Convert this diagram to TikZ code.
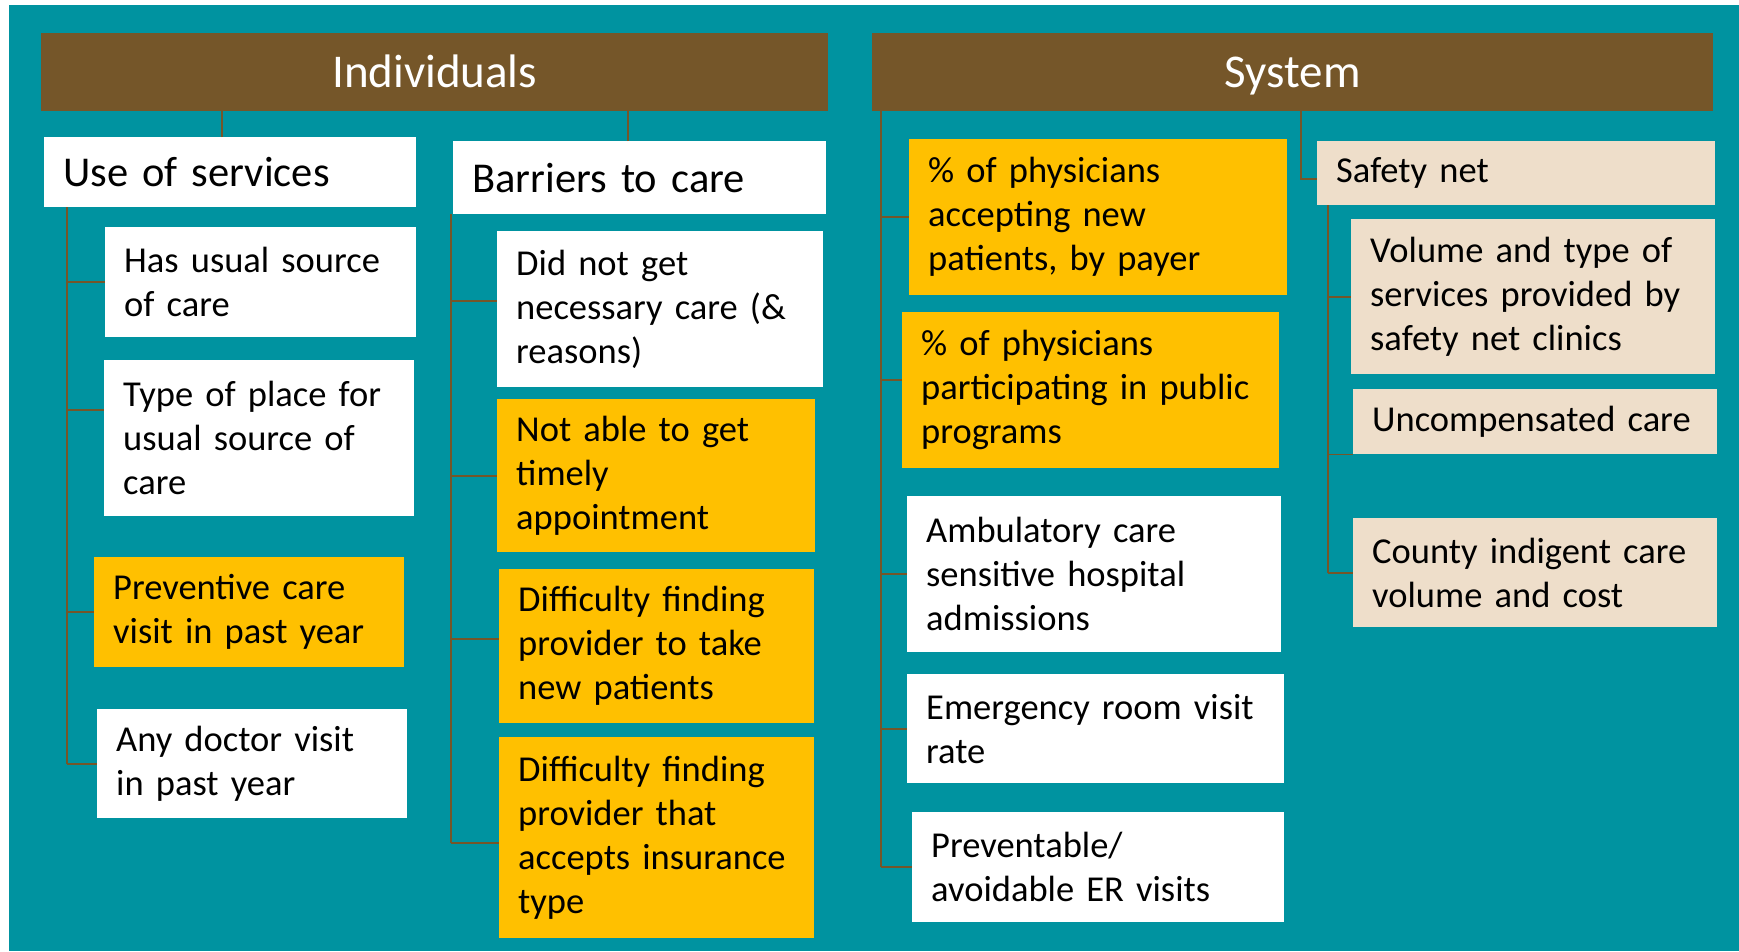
\documentclass[tikz,border=0pt]{standalone}
\usepackage{fontspec}
\setmainfont{Carlito}
\definecolor{bgteal}{RGB}{0,147,160}
\definecolor{hdrbrown}{RGB}{117,86,41}
\definecolor{hlgold}{RGB}{255,192,0}
\definecolor{netbeige}{RGB}{238,222,202}

\begin{document}
\begin{tikzpicture}[x=1pt,y=-1pt,
  item/.style={rectangle,anchor=north west,fill=white,inner xsep=19pt,inner ysep=0pt,
    align=left,font=\fontsize{36.5}{44}\selectfont},
  group/.style={item,font=\fontsize{42.5}{50}\selectfont},
  head/.style={rectangle,anchor=north west,fill=hdrbrown,text=white,inner sep=0pt,
    text height=30pt,text depth=0pt,font=\fontsize{47}{56}\selectfont},
  link/.style={draw=hdrbrown,line width=1.6pt}]

\useasboundingbox (0,0) rectangle (1739,951);
\fill[white] (0,0) rectangle (1739,951);
\fill[bgteal] (9,5) rectangle (1739,951);

% headers
\node[head,minimum width=787pt,minimum height=78pt] (indiv) at (41,33) {Individuals};
\node[head,minimum width=841pt,minimum height=78pt] (sys) at (872,33) {System};

% individuals: use of services
\node[group,text width=334pt,minimum height=70pt] (use) at (44,137) {Use of services};
\node[item,text width=273pt,minimum height=110pt] (has) at (105,227) {Has usual source\\of care};
\node[item,text width=272pt,minimum height=156pt] (type) at (104,360) {Type of place for\\usual source of\\care};
\node[item,fill=hlgold,text width=272pt,minimum height=110pt] (prev) at (94,557) {Preventive care\\visit in past year};
\node[item,text width=272pt,minimum height=109pt] (doct) at (97,709) {Any doctor visit\\in past year};

% individuals: barriers
\node[group,text width=335pt,minimum height=73pt] (bar) at (453,141) {Barriers to care};
\node[item,text width=288pt,minimum height=156pt] (dng) at (497,231) {Did not get\\necessary care (\&\\reasons)};
\node[item,fill=hlgold,text width=280pt,minimum height=153pt] (nat) at (497,399) {Not able to get\\timely\\appointment};
\node[item,fill=hlgold,text width=277pt,minimum height=154pt] (dfa) at (499,569) {Difficulty finding\\provider to take\\new patients};
\node[item,fill=hlgold,text width=277pt,minimum height=201pt] (dfb) at (499,737) {Difficulty finding\\provider that\\accepts insurance\\type};

% system
\node[item,fill=hlgold,text width=340pt,minimum height=156pt] (pacc) at (909,139) {\% of physicians\\accepting new\\patients, by payer};
\node[item,fill=hlgold,text width=339pt,minimum height=156pt] (ppub) at (902,312) {\% of physicians\\participating in public\\programs};
\node[item,text width=336pt,minimum height=156pt] (amb) at (907,496) {Ambulatory care\\sensitive hospital\\admissions};
\node[item,text width=339pt,minimum height=109pt] (er) at (907,674) {Emergency room visit\\rate};
\node[item,text width=334pt,minimum height=110pt] (avoid) at (912,812) {Preventable/\\avoidable ER visits};

% system: safety net
\node[item,fill=netbeige,text width=360pt,minimum height=64pt] (safe) at (1317,141) {Safety net};
\node[item,fill=netbeige,text width=326pt,minimum height=155pt] (vol) at (1351,219) {Volume and type of\\services provided by\\safety net clinics};
\node[item,fill=netbeige,text width=326pt,minimum height=65pt] (unc) at (1353,389) {Uncompensated~care};
\node[item,fill=netbeige,text width=326pt,minimum height=109pt] (cty) at (1353,518) {County indigent care\\volume and cost};

% tick points off the box middles
\coordinate (typein) at ([yshift=28pt]type.west);
\coordinate (dngin) at ([yshift=8pt]dng.west);
\coordinate (dfain) at ([yshift=7pt]dfa.west);
\coordinate (dfbin) at ([yshift=-5pt]dfb.west);
\coordinate (ppubin) at ([yshift=10pt]ppub.west);

% links
\draw[link] ([xshift=-8pt]use.north) -- ([xshift=-8pt]use.north |- indiv.south);
\draw[link] ([xshift=-12pt]bar.north) -- ([xshift=-12pt]bar.north |- indiv.south);
\draw[link] ([xshift=8pt]sys.south) |- ([yshift=-6pt]safe.west);

\coordinate (usespine) at ([xshift=23pt]use.south west);
\draw[link] (usespine) -- (usespine |- doct.west);
\foreach \n in {has,typein,prev,doct}
  \draw[link] (usespine |- \n) -- (\n);

\coordinate (barspine) at ([xshift=-2pt]bar.south west);
\draw[link] (barspine) -- (barspine |- dfbin);
\foreach \n in {dngin,nat,dfain,dfbin}
  \draw[link] (barspine |- \n) -- (\n);

\coordinate (sysspine) at ([xshift=9pt]sys.south west);
\draw[link] (sysspine) -- (sysspine |- avoid.west);
\foreach \n in {pacc,ppubin,amb,er,avoid}
  \draw[link] (sysspine |- \n) -- (\n);

\coordinate (netspine) at ([xshift=11pt]safe.south west);
\draw[link] (netspine) -- (netspine |- cty.west);
\foreach \n in {vol,cty}
  \draw[link] (netspine |- \n.west) -- (\n.west);
\draw[link] (netspine |- unc.south west) -- (unc.south west);

\end{tikzpicture}
\end{document}
